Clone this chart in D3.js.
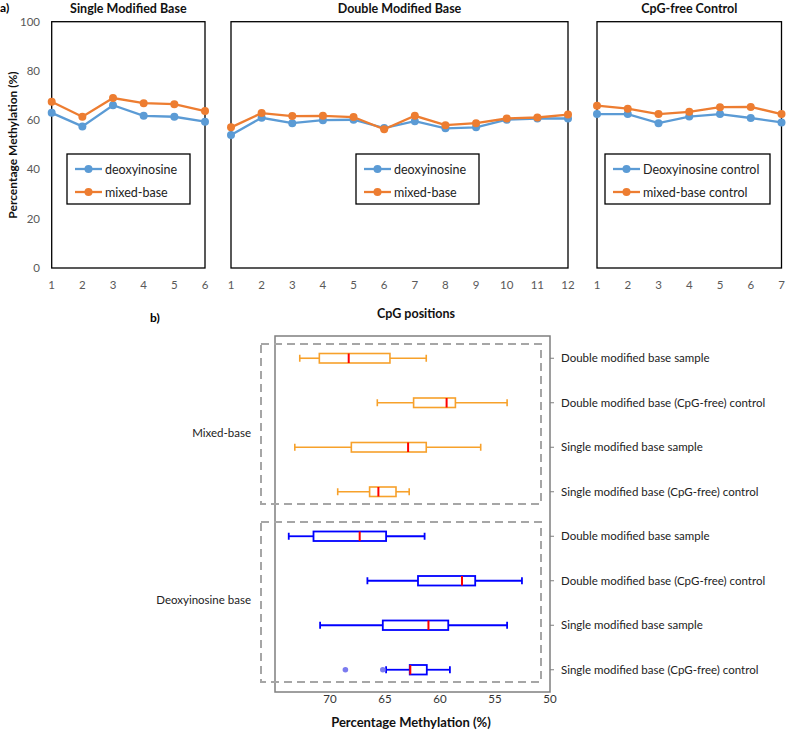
<!DOCTYPE html>
<html lang="en">
<head>
<meta charset="UTF-8">
<title>Percentage methylation by CpG position</title>
<script src="https://d3js.org/d3.v7.min.js"></script>
<style>
  body { margin: 0; background: #fff; font-family: Lato, "Open Sans", sans-serif; }
  svg text { font-family: Lato, "Open Sans", sans-serif; }
</style>
</head>
<body>
<svg width="787" height="737"></svg>
<script>
// ---- panel a) data: percentage methylation per CpG position ----
const singleDeoxy  = [63.0, 57.5, 66.1, 61.8, 61.4, 59.4];
const singleMixed  = [67.5, 61.4, 69.0, 66.9, 66.5, 63.7];
const doubleDeoxy  = [54.0, 61.0, 58.8, 60.0, 60.2, 56.8, 59.6, 56.7, 57.1, 60.2, 60.7, 60.7];
const doubleMixed  = [57.1, 62.9, 61.7, 61.8, 61.3, 56.3, 61.8, 58.0, 58.8, 60.7, 61.1, 62.3];
const controlDeoxy = [62.5, 62.5, 58.8, 61.5, 62.5, 60.9, 59.1];
const controlMixed = [65.9, 64.7, 62.5, 63.4, 65.3, 65.4, 62.5];
const yTicksA = [0, 20, 40, 60, 80, 100];

// ---- panel b) data: box plots [low whisker, q1, median, q3, high whisker] ----
const rowLabels = [
  "Double modified base sample",
  "Double modified base (CpG-free) control",
  "Single modified base sample",
  "Single modified base (CpG-free) control"
];
const groupLabels = ["Mixed-base", "Deoxyinosine base"];
const mixedBoxes = [
  [61.25, 64.55, 68.3, 70.97, 72.75],
  [53.9, 58.6, 59.4, 62.4, 65.7],
  [56.3, 61.25, 62.9, 68.06, 73.2],
  [62.8, 64.0, 65.6, 66.4, 69.3]
];
const deoxyBoxes = [
  [61.4, 64.9, 67.3, 71.5, 73.75],
  [52.55, 56.8, 58.0, 62.0, 66.6],
  [53.9, 59.25, 61.05, 65.2, 70.9],
  [59.1, 61.2, 62.7, 62.75, 64.9]
];
const deoxyOutliers = [[3, 65.2], [3, 68.6]];
const xTicksB = [70, 65, 60, 55, 50];

const blueLine = "#5b9bd5", orangeLine = "#ed7d31";
const svg = d3.select("svg");

// ================= a) =================
svg.append("text").attr("x", 0).attr("y", 12).attr("font-size", 12).attr("font-weight", "bold").text("a)");

const yA = d3.scaleLinear().domain([0, 100]).range([268, 21.7]);

const panels = [
  { title: "Single Modified Base", deoxy: singleDeoxy, mixed: singleMixed, x0: 51.7, x1: 205,
    names: ["deoxyinosine", "mixed-base"], legend: [67, 154, 123] },
  { title: "Double Modified Base", deoxy: doubleDeoxy, mixed: doubleMixed, x0: 231, x1: 568,
    names: ["deoxyinosine", "mixed-base"], legend: [356, 154, 123] },
  { title: "CpG-free Control", deoxy: controlDeoxy, mixed: controlMixed, x0: 597, x1: 781.5,
    names: ["Deoxyinosine control", "mixed-base control"], legend: [605, 154, 165] }
];

panels.forEach(p => {
  const n = p.deoxy.length;
  const x = d3.scaleLinear().domain([1, n]).range([p.x0, p.x1]);
  const g = svg.append("g");

  g.append("text").attr("x", (p.x0 + p.x1) / 2).attr("y", 13)
    .attr("text-anchor", "middle").attr("font-size", 12.5).attr("font-weight", "bold")
    .attr("fill", "#111").text(p.title);

  g.append("rect").attr("x", p.x0).attr("y", yA(100))
    .attr("width", p.x1 - p.x0).attr("height", yA(0) - yA(100))
    .attr("fill", "none").attr("stroke", "#000").attr("stroke-width", 1.3);

  // x tick labels
  g.selectAll(".xt").data(d3.range(1, n + 1)).enter().append("text")
    .attr("x", d => x(d)).attr("y", 289).attr("text-anchor", "middle")
    .attr("font-size", 11.5).attr("fill", "#595959").text(d => d);

  const line = d3.line().x((d, i) => x(i + 1)).y(d => yA(d));
  [[p.deoxy, blueLine], [p.mixed, orangeLine]].forEach(([vals, col]) => {
    g.append("path").attr("d", line(vals)).attr("fill", "none")
      .attr("stroke", col).attr("stroke-width", 2.3);
    g.selectAll(null).data(vals).enter().append("circle")
      .attr("cx", (d, i) => x(i + 1)).attr("cy", d => yA(d)).attr("r", 4).attr("fill", col);
  });

  // legend
  const [lx, ly, lw] = p.legend;
  const lg = g.append("g").attr("transform", `translate(${lx},${ly})`);
  lg.append("rect").attr("width", lw).attr("height", 50).attr("fill", "#fff")
    .attr("stroke", "#000").attr("stroke-width", 1.3);
  [[p.names[0], blueLine, 15], [p.names[1], orangeLine, 38]].forEach(([name, col, yy]) => {
    lg.append("line").attr("x1", 8).attr("x2", 35).attr("y1", yy).attr("y2", yy)
      .attr("stroke", col).attr("stroke-width", 2.3);
    lg.append("circle").attr("cx", 21.5).attr("cy", yy).attr("r", 4).attr("fill", col);
    lg.append("text").attr("x", 38).attr("y", yy + 4.5).attr("font-size", 12.5)
      .attr("fill", "#222").text(name);
  });
});

// y axis labels for a)
svg.selectAll(".yt").data(yTicksA).enter().append("text")
  .attr("x", 40).attr("y", d => yA(d) + 4).attr("text-anchor", "end")
  .attr("font-size", 11.5).attr("fill", "#595959").text(d => d);
svg.append("text").attr("transform", "translate(17,145) rotate(-90)")
  .attr("text-anchor", "middle").attr("font-size", 12).attr("font-weight", "bold")
  .attr("fill", "#111").text("Percentage Methylation (%)");
svg.append("text").attr("x", 416).attr("y", 318).attr("text-anchor", "middle")
  .attr("font-size", 12.5).attr("font-weight", "bold").attr("fill", "#111").text("CpG positions");

// ================= b) =================
svg.append("text").attr("x", 150).attr("y", 322).attr("font-size", 12).attr("font-weight", "bold").text("b)");

const bLeft = 275, bRight = 550, bTop = 336, bBottom = 692;
const xB = d3.scaleLinear().domain([75, 50]).range([bLeft, bRight]);
const allRows = d3.range(8);
const yB = d3.scaleBand().domain(allRows).range([bTop, bBottom]);
const yc = i => yB(i) + yB.bandwidth() / 2;

// frame
svg.append("rect").attr("x", bLeft).attr("y", bTop).attr("width", bRight - bLeft).attr("height", bBottom - bTop)
  .attr("fill", "none").attr("stroke", "#7f7f7f").attr("stroke-width", 1.5);

// bottom axis labels
svg.selectAll(".xb").data(xTicksB).enter().append("text")
  .attr("x", d => xB(d)).attr("y", 703).attr("text-anchor", "middle")
  .attr("font-size", 11.5).attr("fill", "#333").text(d => d);
svg.append("text").attr("x", 411).attr("y", 727).attr("text-anchor", "middle")
  .attr("font-size", 13).attr("font-weight", "bold").attr("fill", "#111").text("Percentage Methylation (%)");

// right-side ticks and labels
allRows.forEach(i => {
  svg.append("line").attr("x1", bRight).attr("x2", bRight + 4).attr("y1", yc(i)).attr("y2", yc(i))
    .attr("stroke", "#7f7f7f").attr("stroke-width", 1);
  svg.append("text").attr("x", 561).attr("y", yc(i) + 4).attr("font-size", 11.5)
    .attr("fill", "#222").text(rowLabels[i % 4]);
});

// dashed group outlines and group labels
[0, 1].forEach(gi => {
  const y0 = yB(gi * 4) + 8, y1 = yB(gi * 4 + 3) + yB.bandwidth() - 10;
  svg.append("rect").attr("x", 261).attr("y", y0).attr("width", 280).attr("height", y1 - y0)
    .attr("fill", "none").attr("stroke", "#a6a6a6").attr("stroke-width", 2)
    .attr("stroke-dasharray", "8,5");
  svg.append("text").attr("x", 251).attr("y", (yc(gi * 4 + 1) + yc(gi * 4 + 2)) / 2 + [12, 1][gi])
    .attr("text-anchor", "end").attr("font-size", 11.5).attr("fill", "#222").text(groupLabels[gi]);
});

function drawBox(row, b, col, sw) {
  const cy = yc(row), h = 9.5, cap = 3.5;
  const g = svg.append("g");
  g.append("line").attr("x1", xB(b[4])).attr("x2", xB(b[3])).attr("y1", cy).attr("y2", cy)
    .attr("stroke", col).attr("stroke-width", sw);
  g.append("line").attr("x1", xB(b[1])).attr("x2", xB(b[0])).attr("y1", cy).attr("y2", cy)
    .attr("stroke", col).attr("stroke-width", sw);
  [b[0], b[4]].forEach(v => g.append("line").attr("x1", xB(v)).attr("x2", xB(v))
    .attr("y1", cy - cap).attr("y2", cy + cap).attr("stroke", col).attr("stroke-width", sw));
  g.append("rect").attr("x", xB(b[3])).attr("y", cy - h / 2)
    .attr("width", xB(b[1]) - xB(b[3])).attr("height", h)
    .attr("fill", "#fff").attr("stroke", col).attr("stroke-width", sw);
  g.append("line").attr("x1", xB(b[2])).attr("x2", xB(b[2]))
    .attr("y1", cy - h / 2).attr("y2", cy + h / 2).attr("stroke", "#ff0000").attr("stroke-width", 2);
}

mixedBoxes.forEach((b, i) => drawBox(i, b, "#f7a12b", 1.6));
deoxyBoxes.forEach((b, i) => drawBox(i + 4, b, "#0000ff", 1.8));

svg.selectAll(".outlier").data(deoxyOutliers).enter().append("circle")
  .attr("cx", d => xB(d[1])).attr("cy", d => yc(d[0] + 4)).attr("r", 2.8)
  .attr("fill", "#7b7bef");
</script>
</body>
</html>
